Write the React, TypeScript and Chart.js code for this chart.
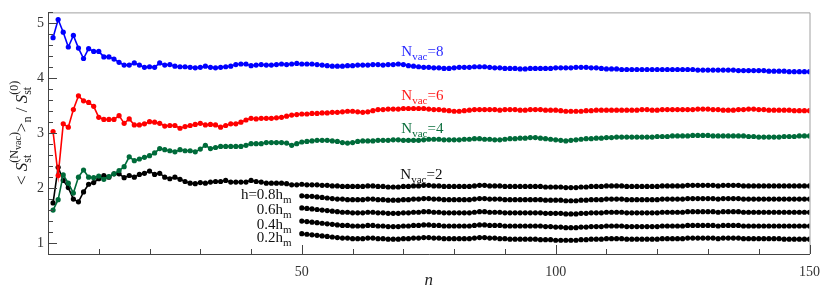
import { useEffect, useRef } from "react";
import { Chart, registerables } from "chart.js";
Chart.register(...registerables);

// ---- data ----
const N8 = [
  4.74, 5.07, 4.84, 4.57, 4.78, 4.55, 4.36, 4.54, 4.49, 4.49,
  4.39, 4.39, 4.35, 4.29, 4.24, 4.24, 4.28, 4.24, 4.20, 4.21,
  4.20, 4.28, 4.24, 4.25, 4.22, 4.21, 4.21, 4.20, 4.19, 4.20,
  4.22, 4.20, 4.19, 4.20, 4.21, 4.22, 4.25, 4.26, 4.26, 4.23,
  4.24, 4.25, 4.24, 4.24, 4.25, 4.26, 4.25, 4.26, 4.27, 4.26,
  4.26, 4.26, 4.25, 4.24, 4.23, 4.22, 4.22, 4.22, 4.23, 4.23,
  4.24, 4.24, 4.24, 4.25, 4.25, 4.24, 4.25, 4.25, 4.26, 4.25,
  4.23, 4.22, 4.21, 4.20, 4.20, 4.19, 4.19, 4.18, 4.18, 4.19,
  4.20, 4.20, 4.20, 4.21, 4.21, 4.21, 4.20, 4.19, 4.19, 4.18,
  4.18, 4.18, 4.17, 4.17, 4.18, 4.18, 4.18, 4.18, 4.18, 4.19,
  4.19, 4.19, 4.19, 4.20, 4.20, 4.20, 4.19, 4.19, 4.18, 4.17,
  4.17, 4.17, 4.16, 4.16, 4.16, 4.16, 4.16, 4.16, 4.16, 4.16,
  4.16, 4.16, 4.16, 4.16, 4.16, 4.16, 4.16, 4.15, 4.15, 4.15,
  4.15, 4.15, 4.15, 4.15, 4.15, 4.14, 4.14, 4.14, 4.14, 4.14,
  4.14, 4.13, 4.13, 4.13, 4.13, 4.12, 4.12, 4.12, 4.12, 4.12,
];
const N6 = [
  3.03, 2.23, 3.17, 3.11, 3.43, 3.68, 3.59, 3.56, 3.49, 3.29,
  3.25, 3.25, 3.25, 3.32, 3.18, 3.26, 3.15, 3.15, 3.17, 3.21,
  3.20, 3.18, 3.13, 3.14, 3.14, 3.09, 3.12, 3.14, 3.16, 3.18,
  3.15, 3.16, 3.15, 3.11, 3.14, 3.17, 3.17, 3.20, 3.24, 3.27,
  3.26, 3.27, 3.27, 3.27, 3.28, 3.29, 3.31, 3.33, 3.34, 3.35,
  3.35, 3.36, 3.36, 3.37, 3.37, 3.38, 3.38, 3.39, 3.40, 3.40,
  3.39, 3.38, 3.39, 3.41, 3.43, 3.43, 3.44, 3.44, 3.44, 3.45,
  3.45, 3.45, 3.45, 3.45, 3.44, 3.43, 3.43, 3.42, 3.41, 3.40,
  3.40, 3.41, 3.42, 3.43, 3.43, 3.43, 3.43, 3.43, 3.42, 3.43,
  3.43, 3.43, 3.42, 3.42, 3.43, 3.43, 3.43, 3.42, 3.42, 3.42,
  3.41, 3.40, 3.40, 3.40, 3.40, 3.41, 3.41, 3.42, 3.42, 3.42,
  3.42, 3.42, 3.42, 3.42, 3.42, 3.42, 3.43, 3.43, 3.42, 3.42,
  3.43, 3.43, 3.43, 3.43, 3.43, 3.43, 3.43, 3.44, 3.44, 3.44,
  3.43, 3.43, 3.42, 3.42, 3.42, 3.43, 3.43, 3.44, 3.44, 3.43,
  3.43, 3.42, 3.42, 3.42, 3.42, 3.42, 3.41, 3.41, 3.41, 3.41,
];
const N4 = [
  1.60, 1.79, 2.24, 2.09, 1.91, 2.20, 2.33, 2.20, 2.19, 2.22,
  2.16, 2.21, 2.26, 2.32, 2.39, 2.57, 2.50, 2.53, 2.56, 2.59,
  2.64, 2.72, 2.70, 2.68, 2.66, 2.70, 2.68, 2.68, 2.66, 2.71,
  2.78, 2.72, 2.74, 2.76, 2.76, 2.76, 2.76, 2.76, 2.78, 2.81,
  2.81, 2.81, 2.83, 2.83, 2.83, 2.83, 2.82, 2.78, 2.81, 2.84,
  2.85, 2.86, 2.87, 2.87, 2.87, 2.86, 2.85, 2.83, 2.82, 2.83,
  2.85, 2.86, 2.86, 2.86, 2.87, 2.87, 2.87, 2.88, 2.88, 2.87,
  2.87, 2.87, 2.87, 2.88, 2.89, 2.89, 2.89, 2.88, 2.88, 2.88,
  2.88, 2.89, 2.89, 2.90, 2.90, 2.89, 2.89, 2.88, 2.88, 2.89,
  2.90, 2.90, 2.91, 2.91, 2.92, 2.92, 2.91, 2.90, 2.89, 2.88,
  2.87, 2.86, 2.87, 2.88, 2.89, 2.90, 2.90, 2.91, 2.91, 2.92,
  2.92, 2.93, 2.93, 2.93, 2.93, 2.93, 2.93, 2.93, 2.93, 2.94,
  2.94, 2.94, 2.95, 2.95, 2.95, 2.95, 2.96, 2.96, 2.96, 2.96,
  2.95, 2.95, 2.95, 2.95, 2.95, 2.95, 2.95, 2.94, 2.94, 2.93,
  2.93, 2.93, 2.93, 2.93, 2.94, 2.94, 2.94, 2.95, 2.95, 2.95,
];
const N2 = [
  1.73, 2.38, 2.14, 2.01, 1.80, 1.75, 1.93, 2.07, 2.10, 2.17,
  2.23, 2.20, 2.26, 2.26, 2.19, 2.23, 2.20, 2.25, 2.27, 2.31,
  2.25, 2.27, 2.20, 2.17, 2.20, 2.16, 2.12, 2.09, 2.08, 2.10,
  2.09, 2.11, 2.12, 2.12, 2.14, 2.11, 2.11, 2.11, 2.11, 2.14,
  2.12, 2.11, 2.09, 2.09, 2.09, 2.09, 2.08, 2.06, 2.06, 2.07,
  2.06, 2.06, 2.06, 2.05, 2.05, 2.04, 2.04, 2.03, 2.03, 2.03,
  2.03, 2.03, 2.04, 2.04, 2.03, 2.03, 2.02, 2.02, 2.02, 2.03,
  2.03, 2.04, 2.04, 2.05, 2.05, 2.04, 2.04, 2.03, 2.03, 2.03,
  2.03, 2.03, 2.03, 2.04, 2.05, 2.05, 2.04, 2.04, 2.04, 2.03,
  2.03, 2.03, 2.03, 2.03, 2.03, 2.03, 2.03, 2.02, 2.02, 2.02,
  2.02, 2.01, 2.01, 2.01, 2.02, 2.02, 2.03, 2.03, 2.03, 2.04,
  2.04, 2.04, 2.04, 2.03, 2.03, 2.03, 2.03, 2.03, 2.03, 2.03,
  2.04, 2.04, 2.04, 2.04, 2.04, 2.05, 2.05, 2.05, 2.05, 2.05,
  2.05, 2.04, 2.05, 2.05, 2.05, 2.05, 2.04, 2.04, 2.04, 2.04,
  2.04, 2.04, 2.04, 2.04, 2.04, 2.04, 2.04, 2.04, 2.04, 2.04,
];
// h-series start at n = 50
const H_START = 50;
const H08 = [
  1.86, 1.85, 1.85, 1.84, 1.83, 1.82, 1.81, 1.80, 1.80, 1.79,
  1.79, 1.79, 1.79, 1.80, 1.80, 1.79, 1.79, 1.78, 1.78, 1.78,
  1.79, 1.79, 1.80, 1.80, 1.81, 1.81, 1.80, 1.80, 1.79, 1.79,
  1.79, 1.79, 1.79, 1.79, 1.80, 1.81, 1.81, 1.80, 1.80, 1.80,
  1.79, 1.79, 1.79, 1.79, 1.79, 1.79, 1.79, 1.79, 1.78, 1.78,
  1.78, 1.78, 1.77, 1.77, 1.77, 1.78, 1.78, 1.79, 1.79, 1.79,
  1.80, 1.80, 1.80, 1.80, 1.79, 1.79, 1.79, 1.79, 1.79, 1.79,
  1.79, 1.80, 1.80, 1.80, 1.80, 1.80, 1.81, 1.81, 1.81, 1.81,
  1.81, 1.81, 1.80, 1.81, 1.81, 1.81, 1.81, 1.80, 1.80, 1.80,
  1.80, 1.80, 1.80, 1.80, 1.80, 1.80, 1.80, 1.80, 1.80, 1.80,
  1.80,
];
const H06 = [
  1.64, 1.63, 1.62, 1.61, 1.60, 1.59, 1.58, 1.57, 1.56, 1.56,
  1.55, 1.55, 1.55, 1.56, 1.56, 1.55, 1.55, 1.54, 1.54, 1.54,
  1.55, 1.55, 1.56, 1.56, 1.57, 1.57, 1.56, 1.56, 1.55, 1.55,
  1.55, 1.55, 1.55, 1.55, 1.56, 1.57, 1.57, 1.56, 1.56, 1.56,
  1.55, 1.55, 1.55, 1.55, 1.55, 1.55, 1.55, 1.55, 1.54, 1.54,
  1.54, 1.54, 1.53, 1.53, 1.53, 1.54, 1.54, 1.55, 1.55, 1.55,
  1.56, 1.56, 1.56, 1.56, 1.55, 1.55, 1.55, 1.55, 1.55, 1.55,
  1.55, 1.56, 1.56, 1.56, 1.56, 1.56, 1.57, 1.57, 1.57, 1.57,
  1.57, 1.57, 1.56, 1.57, 1.57, 1.57, 1.57, 1.56, 1.56, 1.56,
  1.56, 1.56, 1.56, 1.56, 1.56, 1.56, 1.56, 1.56, 1.56, 1.56,
  1.56,
];
const H04 = [
  1.40, 1.39, 1.38, 1.37, 1.36, 1.35, 1.34, 1.33, 1.32, 1.32,
  1.31, 1.31, 1.31, 1.32, 1.32, 1.31, 1.31, 1.30, 1.30, 1.30,
  1.31, 1.31, 1.32, 1.32, 1.33, 1.33, 1.32, 1.32, 1.31, 1.31,
  1.31, 1.31, 1.31, 1.31, 1.32, 1.33, 1.33, 1.32, 1.32, 1.32,
  1.31, 1.31, 1.31, 1.31, 1.31, 1.31, 1.31, 1.31, 1.30, 1.30,
  1.29, 1.29, 1.28, 1.28, 1.28, 1.29, 1.29, 1.30, 1.30, 1.30,
  1.31, 1.31, 1.31, 1.31, 1.30, 1.30, 1.30, 1.30, 1.30, 1.30,
  1.30, 1.31, 1.31, 1.31, 1.31, 1.31, 1.32, 1.32, 1.32, 1.32,
  1.32, 1.32, 1.31, 1.32, 1.32, 1.32, 1.32, 1.31, 1.31, 1.31,
  1.31, 1.31, 1.31, 1.31, 1.31, 1.31, 1.31, 1.31, 1.31, 1.31,
  1.31,
];
const H02 = [
  1.17, 1.16, 1.15, 1.14, 1.13, 1.12, 1.11, 1.10, 1.09, 1.09,
  1.08, 1.08, 1.08, 1.09, 1.09, 1.08, 1.08, 1.07, 1.07, 1.07,
  1.08, 1.08, 1.09, 1.09, 1.10, 1.10, 1.09, 1.09, 1.08, 1.08,
  1.08, 1.08, 1.08, 1.08, 1.09, 1.10, 1.10, 1.09, 1.09, 1.08,
  1.08, 1.07, 1.07, 1.07, 1.07, 1.07, 1.07, 1.06, 1.06, 1.06,
  1.05, 1.05, 1.05, 1.05, 1.05, 1.06, 1.06, 1.07, 1.07, 1.07,
  1.08, 1.08, 1.08, 1.08, 1.07, 1.07, 1.07, 1.07, 1.07, 1.07,
  1.07, 1.08, 1.08, 1.08, 1.08, 1.08, 1.09, 1.09, 1.09, 1.09,
  1.09, 1.09, 1.08, 1.09, 1.09, 1.09, 1.09, 1.08, 1.08, 1.08,
  1.08, 1.08, 1.08, 1.08, 1.08, 1.07, 1.07, 1.07, 1.07, 1.07,
  1.07,
];

const X_TICKS = [50, 100, 150];
const Y_TICKS = [1, 2, 3, 4, 5];
const X_RANGE = [0, 150];
const Y_RANGE = [0.8, 5.2];

// series labels: [main, subscript, rest, colour, n, value]
const SERIES_LABELS: [string, string, string, string, number, number][] = [
  ["N", "vac", "=8", "#2a2aff", 69.6, 4.41],
  ["N", "vac", "=6", "#ff1a1a", 69.6, 3.6],
  ["N", "vac", "=4", "#0a6e3c", 69.6, 3.0],
  ["N", "vac", "=2", "#111111", 69.4, 2.17],
];
// h labels (right aligned): [prefix, sub, n, value]
const H_LABELS: [string, string, number, number][] = [
  ["h=0.8h", "m", 48, 1.81],
  ["0.6h", "m", 48, 1.53],
  ["0.4h", "m", 48, 1.26],
  ["0.2h", "m", 48, 1.02],
];

const SERIF = "'Liberation Serif', 'DejaVu Serif', serif";

type Seg = { t: string; size: number; dy: number; italic?: boolean };

function segWidth(ctx: CanvasRenderingContext2D, s: Seg) {
  ctx.font = `${s.italic ? "italic " : ""}${s.size}px ${SERIF}`;
  return ctx.measureText(s.t).width;
}
function drawSegs(ctx: CanvasRenderingContext2D, segs: Seg[], x: number, y: number) {
  let cx = x;
  for (const s of segs) {
    ctx.font = `${s.italic ? "italic " : ""}${s.size}px ${SERIF}`;
    ctx.fillText(s.t, cx, y + s.dy);
    cx += ctx.measureText(s.t).width;
  }
  return cx - x;
}
function segsWidth(ctx: CanvasRenderingContext2D, segs: Seg[]) {
  return segs.reduce((a, s) => a + segWidth(ctx, s), 0);
}

const decor = {
  id: "decor",
  afterDraw(chart: any) {
    const { ctx, chartArea: ca, scales } = chart;
    const xs = scales.x, ys = scales.y;
    ctx.save();
    // frame
    ctx.lineWidth = 1;
    ctx.strokeStyle = "#a0a0a0";
    ctx.beginPath();
    ctx.moveTo(ca.left, ca.top + 0.5);
    ctx.lineTo(ca.right + 0.5, ca.top + 0.5);
    ctx.lineTo(ca.right + 0.5, ca.bottom);
    ctx.stroke();
    ctx.strokeStyle = "#444";
    ctx.beginPath();
    ctx.moveTo(ca.left + 0.5, ca.top);
    ctx.lineTo(ca.left + 0.5, ca.bottom + 0.5);
    ctx.lineTo(ca.right + 0.5, ca.bottom + 0.5);
    ctx.stroke();
    // ticks (inside)
    ctx.strokeStyle = "#444";
    ctx.lineWidth = 1;
    ctx.beginPath();
    for (let v = X_RANGE[0] + 10; v <= X_RANGE[1]; v += 10) {
      const px = Math.round(xs.getPixelForValue(v)) + 0.5;
      const major = X_TICKS.includes(v);
      ctx.moveTo(px, ca.bottom);
      ctx.lineTo(px, ca.bottom - (major ? 9 : 5));
    }
    for (let i = 0; i <= 22; i++) {
      const v = Y_RANGE[0] + i * 0.2;
      const py = Math.round(ys.getPixelForValue(v)) + 0.5;
      const major = Math.abs(v - Math.round(v)) < 1e-6;
      ctx.moveTo(ca.left, py);
      ctx.lineTo(ca.left + (major ? 9 : 5), py);
    }
    ctx.stroke();

    // series labels
    ctx.textBaseline = "alphabetic";
    ctx.textAlign = "left";
    for (const [m, sub, rest, col, n, val] of SERIES_LABELS) {
      ctx.fillStyle = col;
      drawSegs(
        ctx,
        [
          { t: m, size: 15, dy: 0 },
          { t: sub, size: 11, dy: 4 },
          { t: rest, size: 15, dy: 0 },
        ],
        xs.getPixelForValue(n),
        ys.getPixelForValue(val)
      );
    }
    ctx.fillStyle = "#111";
    for (const [pre, sub, n, val] of H_LABELS) {
      const segs: Seg[] = [
        { t: pre, size: 15, dy: 0 },
        { t: sub, size: 11, dy: 4 },
      ];
      const w = segsWidth(ctx, segs);
      drawSegs(ctx, segs, xs.getPixelForValue(n) - w, ys.getPixelForValue(val));
    }

    // x title
    ctx.fillStyle = "#222";
    ctx.font = `italic 17px ${SERIF}`;
    ctx.textAlign = "center";
    ctx.fillText("n", (ca.left + ca.right) / 2, 285);

    // y title, rotated
    ctx.textAlign = "left";
    ctx.translate(27, 185);
    ctx.rotate(-Math.PI / 2);
    const M = 17, S = 12, SS = 10;
    let x = 0;
    const run = (segs: Seg[]) => {
      x += drawSegs(ctx, segs, x, 0);
    };
    const stack = (a: Seg[], b: Seg[]) => {
      const wa = drawSegs(ctx, a, x, 0);
      const wb = drawSegs(ctx, b, x, 0);
      x += Math.max(wa, wb);
    };
    run([{ t: "< ", size: M, dy: 0 }, { t: "S", size: M, dy: 0, italic: true }]);
    stack(
      [{ t: "st", size: S, dy: 4 }],
      [
        { t: "(N", size: S, dy: -9 },
        { t: "vac", size: SS, dy: -6 },
        { t: ")", size: S, dy: -9 },
      ]
    );
    run([{ t: ">", size: M, dy: 0 }, { t: "n", size: S, dy: 4 }, { t: " / ", size: M, dy: 0 }, { t: "S", size: M, dy: 0, italic: true }]);
    stack([{ t: "st", size: S, dy: 4 }], [{ t: "(0)", size: S, dy: -9 }]);
    ctx.restore();
  },
};

function toPts(vals: number[], start: number) {
  return vals.map((y, i) => ({ x: start + i, y }));
}

function ds(vals: number[], start: number, color: string) {
  return {
    data: toPts(vals, start),
    borderColor: color,
    backgroundColor: color,
    borderWidth: 1.6,
    pointRadius: 2.6,
    pointBorderWidth: 0,
    pointHoverRadius: 0,
    tension: 0,
  };
}

export default function App() {
  const ref = useRef<HTMLCanvasElement>(null);
  useEffect(() => {
    document.body.style.margin = "0";
    const chart = new Chart(ref.current!, {
      type: "line",
      data: {
        datasets: [
          ds(N8, 1, "#0000ff"),
          ds(N6, 1, "#ff0000"),
          ds(N4, 1, "#006b3a"),
          ds(N2, 1, "#000000"),
          ds(H08, H_START, "#000000"),
          ds(H06, H_START, "#000000"),
          ds(H04, H_START, "#000000"),
          ds(H02, H_START, "#000000"),
        ] as any,
      },
      options: {
        responsive: false,
        animation: false,
        events: [],
        layout: { padding: { left: 0, right: 17, top: 0, bottom: 0 } },
        plugins: { legend: { display: false }, tooltip: { enabled: false } },
        scales: {
          x: {
            type: "linear",
            min: X_RANGE[0],
            max: X_RANGE[1],
            grid: { display: false, drawTicks: false, tickLength: 0 },
            border: { display: false },
            afterBuildTicks: (s: any) => {
              s.ticks = X_TICKS.map((v) => ({ value: v }));
            },
            afterFit: (s: any) => {
              s.height = 38;
            },
            ticks: {
              padding: 10,
              color: "#333",
              font: { family: SERIF, size: 14 },
              maxRotation: 0,
              autoSkip: false,
            },
          },
          y: {
            type: "linear",
            min: Y_RANGE[0],
            max: Y_RANGE[1],
            grid: { display: false, drawTicks: false, tickLength: 0 },
            border: { display: false },
            afterBuildTicks: (s: any) => {
              s.ticks = Y_TICKS.map((v) => ({ value: v }));
            },
            afterFit: (s: any) => {
              s.width = 48;
            },
            ticks: {
              padding: 4,
              color: "#333",
              font: { family: SERIF, size: 14 },
            },
          },
        },
      },
      plugins: [decor],
    });
    return () => chart.destroy();
  }, []);
  return (
    <div style={{ position: "absolute", left: 0, top: 0, width: 830, height: 292, background: "#fff" }}>
      <canvas ref={ref} width={830} height={292} />
    </div>
  );
}
